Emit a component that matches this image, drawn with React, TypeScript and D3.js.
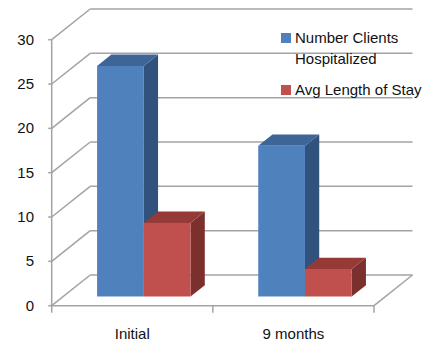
import React from "react";
import * as d3 from "d3";

// Chart data
const categories = ["Initial", "9 months"];
const seriesNames = ["Number Clients Hospitalized", "Avg Length of Stay"];
const numberClientsHospitalized = [26, 17];
const avgLengthOfStay = [8.3, 3.1];
const yTicks = [0, 5, 10, 15, 20, 25, 30];
const legendLines = [["Number Clients", "Hospitalized"], ["Avg Length of Stay"]];

const W = 427;
const H = 341;
const FONT = "'Liberation Sans', Arial, sans-serif";

// Oblique projection: depth vector of the plot box
const DEPTH = { dx: 38.5, dy: -30.7 };
const X0 = 51.7;
const X1 = 374;
// depth fractions of the bars' front and back faces
const T_FRONT = 0.3;
const T_BACK = 0.67;

const faces = [
  { front: "#4F81BD", top: "#3D6596", side: "#31527D" },
  { front: "#C0504D", top: "#963A37", side: "#7C302E" },
];

const GRID = "#a3a3a3";

export default function App() {
  const y = d3.scaleLinear().domain([0, 30]).range([305.7, 39.7]);
  const x = d3
    .scaleBand<string>()
    .domain(categories)
    .range([X0, X1])
    .paddingInner(0.42)
    .paddingOuter(0.21);
  const xs = d3
    .scaleBand<string>()
    .domain(seriesNames)
    .range([0, x.bandwidth()])
    .padding(0);

  const series = [numberClientsHospitalized, avgLengthOfStay];
  const y0 = y(0);
  const bx = X0 + DEPTH.dx;
  const xRightBack = X1 + DEPTH.dx;

  const fdx = T_FRONT * DEPTH.dx;
  const fdy = T_FRONT * DEPTH.dy;
  const bdx = (T_BACK - T_FRONT) * DEPTH.dx;
  const bdy = (T_BACK - T_FRONT) * DEPTH.dy;

  const pts = (p: number[][]) => p.map((q) => q.join(",")).join(" ");

  const bars: React.ReactNode[] = [];
  categories.forEach((cat, ci) => {
    series.forEach((vals, si) => {
      const v = vals[ci];
      const xl = (x(cat) as number) + (xs(seriesNames[si]) as number) + fdx;
      const xr = xl + xs.bandwidth();
      const yb = y0 + fdy;
      const yt = y(v) + fdy;
      const c = faces[si];
      bars.push(
        <g key={`${ci}-${si}`}>
          <polygon
            points={pts([
              [xr, yt],
              [xr + bdx, yt + bdy],
              [xr + bdx, yb + bdy],
              [xr, yb],
            ])}
            fill={c.side}
          />
          <polygon
            points={pts([
              [xl, yt],
              [xl + bdx, yt + bdy],
              [xr + bdx, yt + bdy],
              [xr, yt],
            ])}
            fill={c.top}
          />
          <rect x={xl} y={yt} width={xr - xl} height={yb - yt} fill={c.front} />
        </g>
      );
    });
  });

  // tick marks on the category axis at the category boundaries
  const boundaryTicks = [X0 + x.step(), X1];

  return (
    <svg
      width={W}
      height={H}
      style={{ position: "absolute", left: 0, top: 0, background: "#fff" }}
      fontFamily={FONT}
    >
      {/* side wall and back wall gridlines */}
      {yTicks.map((t) => (
        <g key={t}>
          <line
            x1={X0}
            y1={y(t)}
            x2={bx}
            y2={y(t) + DEPTH.dy}
            stroke={GRID}
            strokeWidth={1.5}
          />
          <line
            x1={bx}
            y1={y(t) + DEPTH.dy}
            x2={xRightBack}
            y2={y(t) + DEPTH.dy}
            stroke={GRID}
            strokeWidth={1.5}
          />
          <line x1={X0 - 3.5} y1={y(t)} x2={X0} y2={y(t)} stroke={GRID} strokeWidth={1.5} />
          <text x={34} y={y(t) + 5} textAnchor="end" fontSize={15} fill="#111">
            {t}
          </text>
        </g>
      ))}
      {/* floor */}
      <line x1={X0} y1={y0} x2={X1} y2={y0} stroke={GRID} strokeWidth={1.5} />
      <line
        x1={X1}
        y1={y0}
        x2={xRightBack}
        y2={y0 + DEPTH.dy}
        stroke={GRID}
        strokeWidth={1.5}
      />
      {/* value axis */}
      <line x1={X0} y1={y(30)} x2={X0} y2={y0 + 7} stroke={GRID} strokeWidth={1.5} />
      {boundaryTicks.map((bxp, i) => (
        <line key={i} x1={bxp} y1={y0} x2={bxp} y2={y0 + 7} stroke={GRID} strokeWidth={1.5} />
      ))}
      {bars}
      {/* category labels */}
      {categories.map((c) => (
        <text
          key={c}
          x={(x(c) as number) + x.bandwidth() / 2}
          y={339}
          textAnchor="middle"
          fontSize={15}
          fill="#111"
        >
          {c}
        </text>
      ))}
      {/* legend */}
      <rect x={281} y={33} width={10} height={10} fill={faces[0].front} />
      <text x={295} y={43} fontSize={15} fill="#111">
        {legendLines[0][0]}
      </text>
      <text x={295} y={64} fontSize={15} fill="#111">
        {legendLines[0][1]}
      </text>
      <rect x={281} y={85} width={10} height={10} fill={faces[1].front} />
      <text x={295} y={95} fontSize={15} fill="#111">
        {legendLines[1][0]}
      </text>
    </svg>
  );
}
